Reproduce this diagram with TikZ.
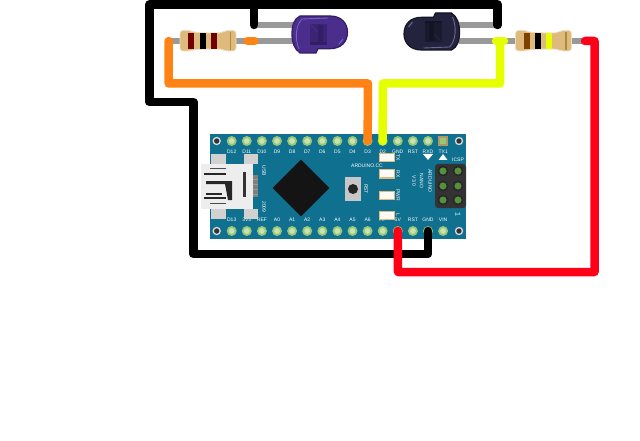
\documentclass[tikz,border=0pt]{standalone}
\usepackage{fontspec}
\setmainfont{Liberation Sans}
\usetikzlibrary{shapes.geometric, positioning}
\definecolor{boardblue}{RGB}{16, 112, 143}
\definecolor{pinring}{RGB}{150, 200, 120}
\definecolor{pinpad}{RGB}{205, 225, 175}
\definecolor{leadgray}{RGB}{153, 153, 153}
\definecolor{wireorange}{RGB}{255, 130, 20}
\definecolor{wireyellow}{RGB}{230, 255, 0}
\definecolor{wirered}{RGB}{255, 0, 25}
\definecolor{skin}{RGB}{222, 187, 125}
\definecolor{skindark}{RGB}{170, 140, 60}
\definecolor{headergreen}{RGB}{85, 145, 60}
\definecolor{ledpurple}{RGB}{75, 45, 140}
\definecolor{ledpurpledark}{RGB}{50, 30, 100}
\definecolor{ledpurplelight}{RGB}{125, 95, 195}
\definecolor{ledblack}{RGB}{35, 35, 62}
\definecolor{ledblackdark}{RGB}{20, 20, 38}
\definecolor{ledblacklight}{RGB}{105, 105, 150}

\begin{document}
\begin{tikzpicture}[
    x=1pt, y=-1pt,
    wire/.style={line width=8.5pt, line cap=round, line join=round},
    lead/.style={line width=5.5pt, leadgray},
    pin/.style={circle, draw=pinring, fill=pinpad, line width=1.8pt, minimum size=8pt, inner sep=0pt},
    hole/.style={circle, draw=white!85!black, fill=black!80, line width=1.3pt, minimum size=7pt, inner sep=0pt},
    silk/.style={text=white, font=\fontsize{5}{5}\selectfont, inner sep=0pt},
    smd/.style={rectangle, draw=skin, fill=white!92!skin, line width=1pt, minimum width=15pt, minimum height=8pt, inner sep=0pt},
    header/.style={circle, draw=black!85, fill=headergreen, line width=1.5pt, minimum size=9pt, inner sep=0pt},
    pad/.style={rectangle, fill=black!18, minimum width=14.5pt, minimum height=10pt, inner sep=0pt},
    pics/resistor/.style={code={
        \path[draw=skin!50!white, fill=skin, line width=0.8pt, rounded corners=3pt]
            (-28,-10.5) -- (-18,-10.5) .. controls (-12,-8) and (5,-8) .. (13,-8) -- (18,-10.5) -- (28,-10.5)
            -- (28,10) -- (18,10) -- (13,8) .. controls (5,8) and (-12,8) .. (-18,10) -- (-28,10) -- cycle;
        \fill[skindark] (21.5,-9) rectangle (23,9);
    }},
    pics/led/.style n args={3}{code={
        \path[fill=#1, draw=#2, line width=1.2pt]
            (-20,-18) -- (10,-18) .. controls (21,-18) and (27.5,-11) .. (27.5,-2)
            .. controls (27.5,8) and (21,14.7) .. (10,14.7) -- (-2,14.7) -- (-4,19) -- (-20,19)
            .. controls (-26,15) and (-28,8) .. (-28,0) .. controls (-28,-9) and (-26,-15) .. (-20,-18) -- cycle;
        \draw[#3, line width=0.9pt] (-21,15) .. controls (-25,6) and (-25,-8) .. (-18,-15) -- (8,-16);
        \fill[#2, opacity=0.6] (-10,-10) rectangle (7,10);
        \fill[#2] (-2,-9) rectangle (3,9);
        \fill[#2] (-10,8.5) rectangle (7,11);
        \draw[#1, line width=0.9pt] (-9,-9) -- (-2.5,-2);
        \draw[#3, line width=1pt] (19,10) -- (23,5);
    }}
]
    \useasboundingbox (0,0) rectangle (640,441);

    % board
    \fill[boardblue] (210,134) rectangle (466,239);
    \node[hole] (holeA) at (216.7,141) {};
    \node[hole] (holeB) at (216.7,231) {};
    \node[hole] (holeC) at (459,141) {};
    \node[hole] (holeD) at (459,231) {};

    \foreach \lbl [count=\i from 0] in {D12,D11,D10,D9,D8,D7,D6,D5,D4,D3,D2,GND,RST,RXD} {
        \node[pin] (top\lbl) at ({231.7+15.1*\i},141) {};
        \node[silk, below=4pt of top\lbl] {\lbl};
    }
    \node[pin, rectangle, draw=skin!80!black, fill=pinring, minimum size=8pt] (topTXA) at (443.2,141) {};
    \node[silk, below=4pt of topTXA] {TX1};
    \foreach \lbl [count=\i from 0] in {D13,3V3,REF,A0,A1,A2,A3,A4,A5,A6,A7,5V,RST,GND,VIN} {
        \node[pin] (bot\lbl) at ({231.7+15.1*\i},231) {};
        \node[silk, above=4pt of bot\lbl] {\lbl};
    }

    % usb socket
    \node[pad] (padA) at (218.5,159.5) {};
    \node[pad] (padB) at (251,159.5) {};
    \node[pad] (padC) at (218.5,214) {};
    \node[pad] (padD) at (251,214) {};
    \fill[black!50] (252,175) rectangle (258,197);
    \foreach \gy in {179,184,189,194}
        \draw[white!60!black, line width=0.7pt] (253,\gy) -- (258,\gy);
    \fill[white!93!black] (201,164) rectangle (253,209);
    \fill[black!80] (243,172) rectangle (245.5,197);
    \draw[black!70, line width=1pt] (210,169) -- (226,169) (210,203) -- (226,203);
    \draw[black!85, line width=1.8pt] (204,174) -- (226,174) (204,198) -- (226,198);
    \fill[black!85] (206,181) -- (232,181) -- (232,200) -- (228,200) -- (225,184) -- (206,184) -- cycle;
    \fill[black!85] (206,193) -- (222,193) -- (222,195) -- (206,195) -- cycle;
    \node[silk, rotate=-90] (usbtxt) at (264,171) {USB};
    \node[silk, rotate=-90] (yeartxt) at (264,207) {2009};

    % chip and reset
    \node[diamond, fill=black!92, minimum size=57pt, inner sep=0pt] (chip) at (301,188) {};
    \node[rectangle, fill=black!22, minimum width=16pt, minimum height=24pt, inner sep=0pt] (rstbtn) at (353,189) {};
    \node[circle, fill=black!85, minimum size=10pt, inner sep=0pt] (rstcap) at (rstbtn) {};
    \node[silk, rotate=-90] (rsttxt) at (366,189) {RST};
    \node[silk] (cctxt) at (367,166) {ARDUINO.CC};

    % status leds
    \foreach \lbl/\ypos in {TX/158, RX/174, PWR/195, L/215} {
        \node[smd] (smd\lbl) at (387,\ypos) {};
        \node[silk, rotate=-90] at (398,\ypos) {\lbl};
    }
    \node[silk, rotate=-90] (nameA) at (430,181) {ARDUINO};
    \node[silk, rotate=-90] (nameB) at (421.7,181) {NANO};
    \node[silk, rotate=-90] (nameC) at (414,181) {V3.0};

    % icsp header
    \fill[white] (423,154) -- (433,154) -- (428,160) -- cycle;
    \fill[white] (443,154) -- (438.5,160) -- (447.5,160) -- cycle;
    \node[silk] (icsp) at (458,160) {ICSP};
    \fill[black!80, rounded corners=3pt] (435,164) rectangle (466,208);
    \foreach \hy in {171,186,200}
        \foreach \hx in {443,458}
            \node[header] at (\hx,\hy) {};
    \node[silk, rotate=-90] (first) at (458,214) {\scriptsize 1};

    % leads
    \coordinate (legOrange) at (168.7,41);
    \coordinate (legOrangeEnd) at (251,41);
    \coordinate (legYellow) at (500,41);
    \coordinate (legRed) at (594.5,41);
    \coordinate (legBlackA) at (254,25);
    \coordinate (legBlackB) at (497.7,25);
    \draw[lead] (legOrange) -- (legOrangeEnd) -- (293,41);
    \draw[lead] (legBlackA) -- (293,25);
    \draw[lead] (459,25) -- (legBlackB);
    \draw[lead] (459,41) -- (legRed);

    % parts
    \pic (resA) at (208,41) {resistor};
    \foreach \bx/\bc in {190.5/red!45!black, 202.5/black, 214/red!45!black}
        \fill[\bc] (\bx-3,33) rectangle (\bx+3,49);
    \pic (resB) at (543.5,41) {resistor};
    \foreach \bx/\bc in {526.7/orange!50!black, 537.7/black, 549/wireyellow}
        \fill[\bc] (\bx-3,33) rectangle (\bx+3,49);
    \pic (ledA) at (320,34) {led={ledpurple}{ledpurpledark}{ledpurplelight}};
    \pic[rotate=180] (ledB) at (431.5,32) {led={ledblack}{ledblackdark}{ledblacklight}};

    % wires
    \draw[wire, black] (legBlackA) -- (254,4.5);
    \draw[wire, black] (legBlackB) |- (149.5,4.5) |- (193.5,102) -- (193.5,254) -| (botGND.center);
    \draw[wire, wireorange] (legOrange) |- (368,83.5) -- (topD3.center);
    \draw[wire, wireorange] (247.5,41) -- (legOrangeEnd) -- (254.5,41);
    \draw[wire, wireyellow] (legYellow) |- (382.8,83.5) -- (topD2.center);
    \draw[wire, wireyellow] (496,41) -- (504,41);
    \draw[wire, wirered] (585,41) -- (legRed) |- (398,272) -- (bot5V.center);
\end{tikzpicture}
\end{document}
